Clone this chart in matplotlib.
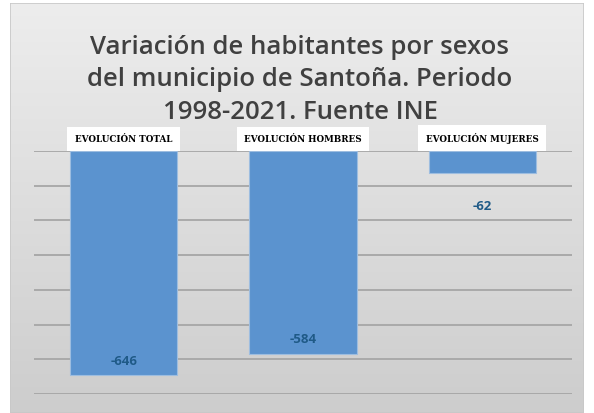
import numpy as np
import matplotlib.pyplot as plt
from matplotlib.patches import Rectangle
from matplotlib.colors import LinearSegmentedColormap

categorias = ['EVOLUCIÓN TOTAL', 'EVOLUCIÓN HOMBRES', 'EVOLUCIÓN MUJERES']
valores = [-646, -584, -62]
titulo = 'Variación de habitantes por sexos\ndel municipio de Santoña. Periodo\n1998-2021. Fuente INE'

fig = plt.figure(figsize=(5.94, 4.14), dpi=100)
fig.patch.set_facecolor('white')

# fondo con degradado gris
bg = fig.add_axes([10/594, 0, 574/594, 410/414], zorder=0)
grad = np.linspace(0, 1, 256).reshape(-1, 1)
cm = LinearSegmentedColormap.from_list('g', ['#ededed', '#cdcdcd'])
bg.imshow(grad, aspect='auto', cmap=cm, extent=[0, 1, 0, 1], origin='upper')
bg.add_patch(Rectangle((0, 0), 1, 1, transform=bg.transAxes, fill=False,
                       edgecolor='#c8c8c8', lw=1.2))
bg.set_xlim(0, 1); bg.set_ylim(0, 1)
bg.axis('off')

ax = fig.add_axes([34/594, 1-395/414, 538/594, 243/414], zorder=1)
ax.patch.set_alpha(0)
x = np.arange(len(categorias))
bars = ax.bar(x, valores, width=0.6, color='#5b93cf', edgecolor='#9dbde0', lw=0.8, zorder=3)
ax.set_xlim(-0.5, 2.5)
ax.set_ylim(-700, 0)
ax.set_yticks(np.arange(-700, 1, 100))
ax.yaxis.grid(True, color='#a6a6a6', lw=1.3, zorder=0)
ax.tick_params(left=False, labelleft=False, bottom=False, labelbottom=False)
for s in ax.spines.values():
    s.set_visible(False)

# etiquetas de categoría en cajas blancas sobre el eje
ax.set_xticks(x)
ax.xaxis.tick_top()
ax.tick_params(top=False, labeltop=True, pad=2)
ax.set_xticklabels(categorias, family='DejaVu Serif', fontweight='bold', fontsize=6.3)
for t in ax.get_xticklabels():
    t.set_bbox(dict(facecolor='white', edgecolor='none', pad=5.5))

offs = [15, 15, -33]
for xi, v, o in zip(x, valores, offs):
    ax.annotate(str(v), (xi, v), xytext=(0, o*0.72), textcoords='offset points',
                ha='center', va='center', fontsize=9.5, fontweight='bold',
                color='#1f5a87', family='Open Sans', zorder=4)

fig.text(0.505, 1-80/414, titulo, ha='center', va='center', fontsize=18.5,
         fontweight='semibold', color='#404040', family='Open Sans', linespacing=1.4)

fig.savefig('out.png', dpi=100)
